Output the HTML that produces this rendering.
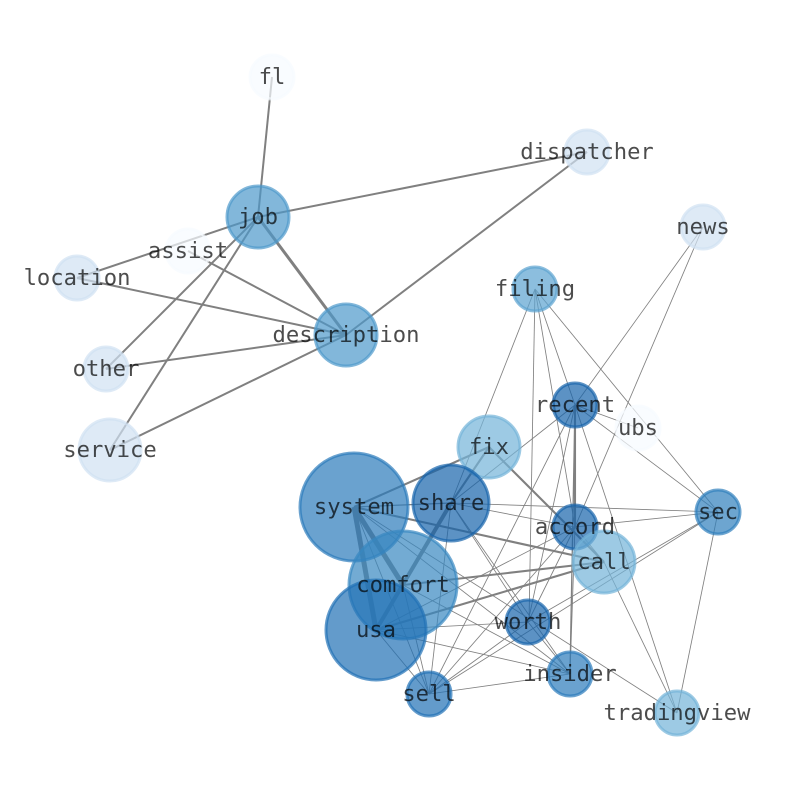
<!DOCTYPE html>
<html><head><meta charset="utf-8"><style>
html,body{margin:0;padding:0;background:#fff}
svg{display:block}
text{font-family:"DejaVu Sans Mono",monospace;font-size:22.2px;fill:#000;fill-opacity:.7;text-anchor:middle}
.n circle{stroke-width:3;fill-opacity:.7;stroke-opacity:.7}
line{stroke:#808080}
.t1 line{stroke-width:.85}
.t2 line{stroke-width:2}
.t3 line{stroke-width:2.1}
.t4 line{stroke-width:5}
</style></head><body>
<svg width="794" height="790" viewBox="0 0 794 790" xmlns="http://www.w3.org/2000/svg">
<g class="t2">
<line x1="272" y1="77" x2="258" y2="217"/>
<line x1="258" y1="217" x2="587" y2="152"/>
<line x1="258" y1="217" x2="77" y2="278"/>
<line x1="258" y1="217" x2="106" y2="369"/>
<line x1="258" y1="217" x2="110" y2="450"/>
<line x1="188" y1="251" x2="346" y2="335"/>
<line x1="77" y1="278" x2="346" y2="335"/>
<line x1="106" y1="369" x2="346" y2="335"/>
<line x1="110" y1="450" x2="346" y2="335"/>
<line x1="346" y1="335" x2="587" y2="152"/>
<line x1="258" y1="217" x2="346" y2="335" style="stroke-width:3"/>
</g>
<g class="t1">
<!-- filing -->
<line x1="535" y1="289" x2="451" y2="503"/>
<line x1="535" y1="289" x2="529" y2="622"/>
<line x1="535" y1="289" x2="575" y2="527"/>
<line x1="535" y1="289" x2="575" y2="405"/>
<line x1="535" y1="289" x2="718" y2="512"/>
<!-- news -->
<line x1="703" y1="227" x2="575" y2="405"/>
<line x1="703" y1="227" x2="575" y2="527"/>
<!-- recent -->
<line x1="575" y1="405" x2="638" y2="428"/>
<line x1="575" y1="405" x2="718" y2="512"/>
<line x1="575" y1="405" x2="451" y2="503"/>
<line x1="575" y1="405" x2="528" y2="622"/>
<line x1="575" y1="405" x2="429" y2="694"/>
<line x1="575" y1="405" x2="677" y2="713"/>
<!-- system -->
<line x1="354" y1="507" x2="570" y2="674"/>
<line x1="354" y1="507" x2="677" y2="713"/>
<line x1="354" y1="507" x2="429" y2="694"/>
<!-- share -->
<line x1="451" y1="503" x2="718" y2="512"/>
<line x1="451" y1="503" x2="575" y2="527"/>
<line x1="451" y1="503" x2="528" y2="622"/>
<line x1="451" y1="503" x2="570" y2="674"/>
<line x1="451" y1="503" x2="429" y2="694"/>
<!-- sec -->
<line x1="718" y1="512" x2="575" y2="527"/>
<line x1="718" y1="512" x2="528" y2="622"/>
<line x1="718" y1="512" x2="429" y2="694"/>
<line x1="718" y1="512" x2="677" y2="713"/>
<!-- accord -->
<line x1="575" y1="527" x2="528" y2="622"/>
<line x1="575" y1="527" x2="429" y2="694"/>
<line x1="575" y1="527" x2="570" y2="674"/>
<line x1="575" y1="527" x2="376" y2="630"/>
<line x1="575" y1="527" x2="604" y2="562"/>
<!-- call -->
<line x1="604" y1="562" x2="677" y2="713"/>
<!-- comfort -->
<line x1="403" y1="585" x2="570" y2="674"/>
<line x1="403" y1="585" x2="429" y2="694"/>
<!-- usa -->
<line x1="376" y1="630" x2="528" y2="622"/>
<line x1="376" y1="630" x2="570" y2="674"/>
<line x1="376" y1="630" x2="429" y2="694"/>
<!-- worth -->
<line x1="528" y1="622" x2="570" y2="674"/>
<line x1="528" y1="622" x2="429" y2="694"/>
<!-- sell -->
<line x1="429" y1="694" x2="570" y2="674"/>
<line x1="575" y1="405" x2="570" y2="674" style="stroke-width:1.3"/>
<line x1="354" y1="507" x2="451" y2="503" style="stroke-width:1.3"/>
</g>
<g class="t3">
<line x1="354" y1="507" x2="489" y2="447"/>
<line x1="354" y1="507" x2="604" y2="562"/>
<line x1="489" y1="447" x2="604" y2="562"/>
<line x1="403" y1="585" x2="604" y2="562"/>
<line x1="376" y1="630" x2="604" y2="562"/>
<line x1="575" y1="405" x2="575" y2="527"/>
<line x1="489" y1="447" x2="451" y2="503"/>
</g>
<g class="t4">
<line x1="354" y1="507" x2="376" y2="630"/>
<line x1="354" y1="507" x2="403" y2="585"/>
<line x1="451" y1="503" x2="376" y2="630" style="stroke-width:4"/>
</g>
<g class="n">
<circle cx="272" cy="77" r="22" fill="#f7fbff" stroke="#f7fbff"/>
<circle cx="587" cy="152" r="22" fill="#d0e1f2" stroke="#d0e1f2"/>
<circle cx="258" cy="217" r="31" fill="#4d99ca" stroke="#4d99ca"/>
<circle cx="188" cy="251" r="22" fill="#f7fbff" stroke="#f7fbff"/>
<circle cx="703" cy="227" r="22" fill="#d0e1f2" stroke="#d0e1f2"/>
<circle cx="77" cy="278" r="22" fill="#d0e1f2" stroke="#d0e1f2"/>
<circle cx="535" cy="289" r="22" fill="#5ba3d0" stroke="#5ba3d0"/>
<circle cx="346" cy="335" r="31" fill="#4d99ca" stroke="#4d99ca"/>
<circle cx="106" cy="369" r="22" fill="#d0e1f2" stroke="#d0e1f2"/>
<circle cx="575" cy="405" r="22" fill="#1764ab" stroke="#1764ab"/>
<circle cx="638" cy="428" r="22" fill="#f7fbff" stroke="#f7fbff"/>
<circle cx="489" cy="447" r="31" fill="#74b3d8" stroke="#74b3d8"/>
<circle cx="110" cy="450" r="31" fill="#d0e1f2" stroke="#d0e1f2"/>
<circle cx="354" cy="507" r="54" fill="#2b7bba" stroke="#2b7bba"/>
<circle cx="451" cy="503" r="38" fill="#1764ab" stroke="#1764ab"/>
<circle cx="718" cy="512" r="22" fill="#2f7fbc" stroke="#2f7fbc"/>
<circle cx="575" cy="527" r="22" fill="#1764ab" stroke="#1764ab"/>
<circle cx="604" cy="562" r="31" fill="#74b3d8" stroke="#74b3d8"/>
<circle cx="403" cy="585" r="54" fill="#3787c0" stroke="#3787c0"/>
<circle cx="376" cy="630" r="50" fill="#2171b5" stroke="#2171b5"/>
<circle cx="528" cy="622" r="22" fill="#1764ab" stroke="#1764ab"/>
<circle cx="570" cy="674" r="22" fill="#2b7bba" stroke="#2b7bba"/>
<circle cx="429" cy="694" r="22" fill="#2171b5" stroke="#2171b5"/>
<circle cx="677" cy="713" r="22" fill="#74b3d8" stroke="#74b3d8"/>
</g>
<g>
<text x="272" y="84">fl</text>
<text x="587" y="159">dispatcher</text>
<text x="258" y="224">job</text>
<text x="188" y="258">assist</text>
<text x="703" y="234">news</text>
<text x="77" y="285">location</text>
<text x="535" y="296">filing</text>
<text x="346" y="342">description</text>
<text x="106" y="376">other</text>
<text x="575" y="412">recent</text>
<text x="638" y="435">ubs</text>
<text x="489" y="454">fix</text>
<text x="110" y="457">service</text>
<text x="354" y="514">system</text>
<text x="451" y="510">share</text>
<text x="718" y="519">sec</text>
<text x="575" y="534">accord</text>
<text x="604" y="569">call</text>
<text x="403" y="592">comfort</text>
<text x="376" y="637">usa</text>
<text x="528" y="629">worth</text>
<text x="570" y="681">insider</text>
<text x="429" y="701">sell</text>
<text x="677" y="720">tradingview</text>
</g>
</svg>
</body></html>
